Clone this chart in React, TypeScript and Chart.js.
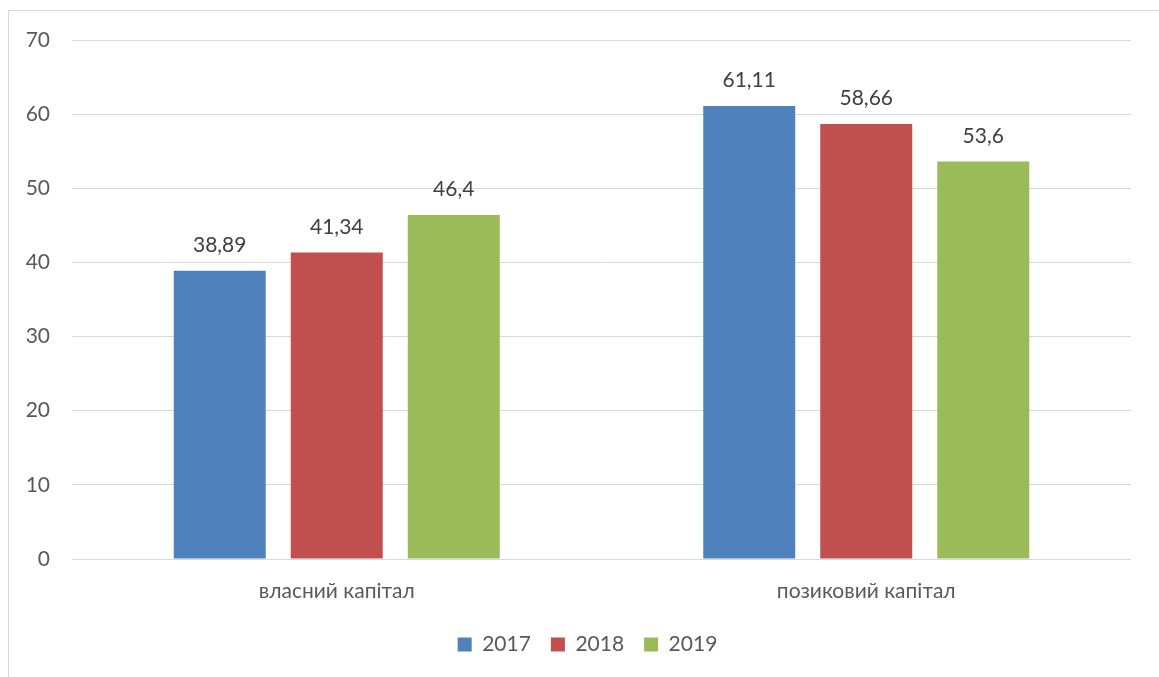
import React, { useEffect, useRef } from "react";
import { Chart, registerables } from "chart.js";

Chart.register(...registerables);

const categories = ["власний капітал", "позиковий капітал"];
const seriesNames = ["2017", "2018", "2019"];
const values2017 = [38.89, 61.11];
const values2018 = [41.34, 58.66];
const values2019 = [46.4, 53.6];
const yTicks = [0, 10, 20, 30, 40, 50, 60, 70];
const colors = ["#4F81BD", "#C0504D", "#9BBB59"];

const FONT = "Lato, 'Open Sans', sans-serif";
const TEXT = "#595959";
const FS = 21;

const valueLabels = {
  id: "valueLabels",
  afterDatasetsDraw(chart: any) {
    const ctx = chart.ctx;
    ctx.save();
    ctx.font = `${FS}px ${FONT}`;
    ctx.fillStyle = "#404040";
    ctx.textAlign = "center";
    ctx.textBaseline = "bottom";
    chart.data.datasets.forEach((ds: any, di: number) => {
      const meta = chart.getDatasetMeta(di);
      meta.data.forEach((bar: any, i: number) => {
        const v = ds.data[i];
        const txt = String(v).replace(".", ",");
        ctx.fillText(txt, bar.x, bar.y - 15);
      });
    });
    ctx.restore();
  },
};

const legendShift = {
  id: "legendShift",
  afterLayout(chart: any) {
    const lg = chart.legend;
    if (!lg) return;
    lg.left += 22;
    lg.right += 22;
    lg.top += 3;
    lg.bottom += 3;
  },
};

export default function App() {
  const ref = useRef<HTMLCanvasElement>(null);
  useEffect(() => {
    if (!ref.current) return;
    const chart = new Chart(ref.current, {
      type: "bar",
      data: {
        labels: categories,
        datasets: [values2017, values2018, values2019].map((d, i) => ({
          label: seriesNames[i],
          data: d,
          backgroundColor: colors[i],
          borderWidth: 0,
          categoryPercentage: 0.663,
          barPercentage: 0.786,
        })),
      },
      options: {
        animation: false,
        responsive: false,
        devicePixelRatio: 1,
        layout: { padding: { left: 0, right: 28, top: 40, bottom: 15 } },
        plugins: {
          legend: {
            position: "bottom",
            labels: {
              font: { family: FONT, size: FS },
              color: TEXT,
              boxWidth: 14,
              boxHeight: 14,
              padding: 20,
            },
          },
          tooltip: { enabled: false },
        },
        scales: {
          x: {
            grid: { display: false, drawTicks: false },
            border: { display: false },
            ticks: { font: { family: FONT, size: FS }, color: TEXT, padding: 20 },
            afterFit(scale: any) {
              scale.height = 52;
            },
          },
          y: {
            min: 0,
            max: 70,
            afterBuildTicks(scale: any) {
              scale.ticks = yTicks.map((v) => ({ value: v }));
            },
            grid: { color: "#d9d9d9", lineWidth: 1, drawTicks: false },
            border: { display: false },
            ticks: { font: { family: FONT, size: FS }, color: TEXT, padding: 22 },
            afterFit(scale: any) {
              scale.width = 72;
            },
          },
        },
      },
      plugins: [valueLabels, legendShift],
    });
    return () => chart.destroy();
  }, []);
  return (
    <div style={{ position: "absolute", left: 0, top: 0, width: 1159, height: 677, overflow: "hidden", background: "#fff" }}>
      <div style={{ position: "absolute", left: 8, top: 10, width: 1200, height: 720, border: "1px solid #d9d9d9", boxSizing: "border-box" }} />
      <canvas ref={ref} width={1159} height={677} style={{ position: "absolute", left: 0, top: 0 }} />
    </div>
  );
}
